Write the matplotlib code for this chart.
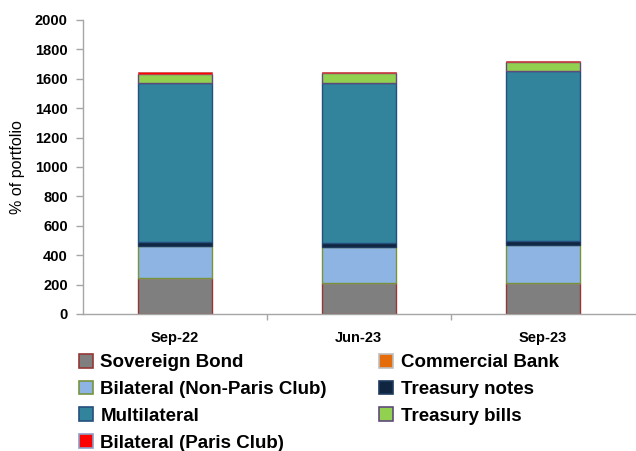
import matplotlib
matplotlib.use("Agg")
import matplotlib.pyplot as plt
from matplotlib.patches import Patch
import numpy as np

plt.rcParams['font.family'] = ['Liberation Sans', 'DejaVu Sans']

# data
periods = ["Sep-22", "Jun-23", "Sep-23"]
sovereign_bond = [243, 213, 213]
commercial_bank = [0, 0, 0]
bilateral_non_paris = [219, 245, 256]
treasury_notes = [28, 23, 25]
multilateral = [1080, 1093, 1162]
treasury_bills = [60, 63, 55]
bilateral_paris = [14, 6, 12]

series = [
    ("Sovereign Bond", sovereign_bond, "#7F7F7F", "#953735"),
    ("Commercial Bank", commercial_bank, "#E46C0A", "#BFBFBF"),
    ("Bilateral (Non-Paris Club)", bilateral_non_paris, "#8EB4E3", "#77933C"),
    ("Treasury notes", treasury_notes, "#10253F", "#1F3A5F"),
    ("Multilateral", multilateral, "#31849B", "#254E7D"),
    ("Treasury bills", treasury_bills, "#92D050", "#604A7B"),
    ("Bilateral (Paris Club)", bilateral_paris, "#FF0000", "#8EA0C8"),
]

fig = plt.figure(figsize=(6.36, 4.51), dpi=100)
ax = fig.add_axes([0.1305, 0.3038, 0.8675, 0.652])

x = np.arange(len(periods))
bottom = np.zeros(len(periods))
handles = {}
for name, vals, fc, ec in series:
    vals = np.array(vals, dtype=float)
    lw = 0.5 if name == "Bilateral (Paris Club)" else 1.0
    bar_ec = "#C0504D" if name == "Bilateral (Paris Club)" else ec
    ax.bar(x, vals, width=0.4, bottom=bottom, color=fc, edgecolor=bar_ec, linewidth=lw)
    handles[name] = Patch(facecolor=fc, edgecolor=ec, linewidth=1.2)
    bottom += vals

ax.set_xlim(-0.5, 2.5)
ax.set_ylim(0, 2000)
ax.set_yticks(np.arange(0, 2001, 200))
ax.set_xticks(x)
ax.set_xticklabels(periods)
ax.set_xticks([0.5, 1.5], minor=True)

for side in ["top", "right"]:
    ax.spines[side].set_visible(False)
for side in ["left", "bottom"]:
    ax.spines[side].set_color("#A6A6A6")
    ax.spines[side].set_linewidth(1.0)

ax.tick_params(axis="y", colors="#A6A6A6", length=5, width=1, labelcolor="black",
               labelsize=10.5, pad=6)
ax.tick_params(axis="x", which="major", length=0, labelsize=10.5, pad=12)
ax.tick_params(axis="x", which="minor", length=4, width=1, colors="#A6A6A6")
for lbl in ax.get_xticklabels() + ax.get_yticklabels():
    lbl.set_fontweight("bold")

ax.set_ylabel("% of portfolio", fontsize=11.5, labelpad=7)

# legend laid out row-wise like the original
order = ["Sovereign Bond", "Bilateral (Non-Paris Club)", "Multilateral",
         "Bilateral (Paris Club)", "Commercial Bank", "Treasury notes", "Treasury bills"]
fig.legend([handles[n] for n in order], order, ncol=2, frameon=False,
           loc="upper left", bbox_to_anchor=(0.112, 0.232),
           prop={"size": 13.5, "weight": "bold"},
           handlelength=0.75, handleheight=0.75, handletextpad=0.4,
           columnspacing=2.8, labelspacing=0.5, borderaxespad=0)

fig.savefig("out.png", dpi=100)
